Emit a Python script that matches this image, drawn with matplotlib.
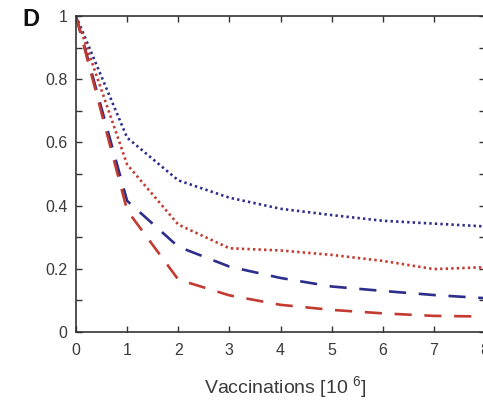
import matplotlib
matplotlib.use("Agg")
import matplotlib.pyplot as plt
import numpy as np

plt.rcParams['font.family'] = ['Liberation Sans', 'DejaVu Sans']
plt.rcParams['mathtext.fontset'] = 'custom'
plt.rcParams['mathtext.rm'] = 'Liberation Sans'
plt.rcParams['mathtext.it'] = 'Liberation Sans'

# Vaccinations in millions
vaccinations = [0, 1, 2, 3, 4, 5, 6, 7, 8]

# Fraction remaining for each scenario
blue_dotted = [1.0, 0.615, 0.48, 0.425, 0.39, 0.37, 0.352, 0.343, 0.334]
red_dotted = [1.0, 0.53, 0.34, 0.265, 0.258, 0.244, 0.225, 0.199, 0.205]
blue_dashed = [1.0, 0.415, 0.27, 0.207, 0.171, 0.144, 0.13, 0.117, 0.107]
red_dashed = [1.0, 0.385, 0.166, 0.116, 0.086, 0.07, 0.059, 0.051, 0.049]

x_ticks = [0, 1, 2, 3, 4, 5, 6, 7, 8]
y_ticks = [0, 0.2, 0.4, 0.6, 0.8, 1.0]
y_tick_labels = ["0", "0.2", "0.4", "0.6", "0.8", "1"]

blue = '#2d2d8c'
red = '#c23a30'
text_col = '#3a3a3a'

fig = plt.figure(figsize=(4.83, 4.04), dpi=100)
ax = fig.add_axes([76 / 483, 1 - 332 / 404, (485 - 76) / 483, (332 - 16) / 404])

lw = 1.9
ax.plot(vaccinations, blue_dotted, color=blue, lw=lw, linestyle=(0, (0.9, 1.2)))
ax.plot(vaccinations, red_dotted, color=red, lw=lw, linestyle=(0, (0.9, 1.2)))
ax.plot(vaccinations, blue_dashed, color=blue, lw=lw, linestyle=(0, (6.5, 4.8)),
        dash_capstyle='butt')
ax.plot(vaccinations, red_dashed, color=red, lw=lw, linestyle=(0, (6.5, 4.8)),
        dash_capstyle='butt')

ax.set_xlim(0, 8)
ax.set_ylim(0, 1)
ax.set_xticks(x_ticks)
ax.set_yticks(y_ticks)
ax.set_yticklabels(y_tick_labels)
ax.set_yticks(np.arange(0.1, 1.0, 0.2), minor=True)

ax.tick_params(which='both', direction='in', top=True, right=True,
               length=4, width=1.0, color='#333333', labelcolor=text_col,
               labelsize=11.5)
ax.tick_params(axis='x', pad=8)
ax.tick_params(axis='y', pad=6)
for s in ax.spines.values():
    s.set_color('#333333')
    s.set_linewidth(1.2)

fig.text(285 / 483, 1 - 387 / 404, "Vaccinations [10 $^{6}$]", ha='center', va='center',
         fontsize=14, color=text_col)
fig.text(31 / 483, 1 - 20 / 404, "D", ha='center', va='center', fontsize=17,
         fontweight='bold', color='#111111')

fig.savefig("out.png", dpi=100)
